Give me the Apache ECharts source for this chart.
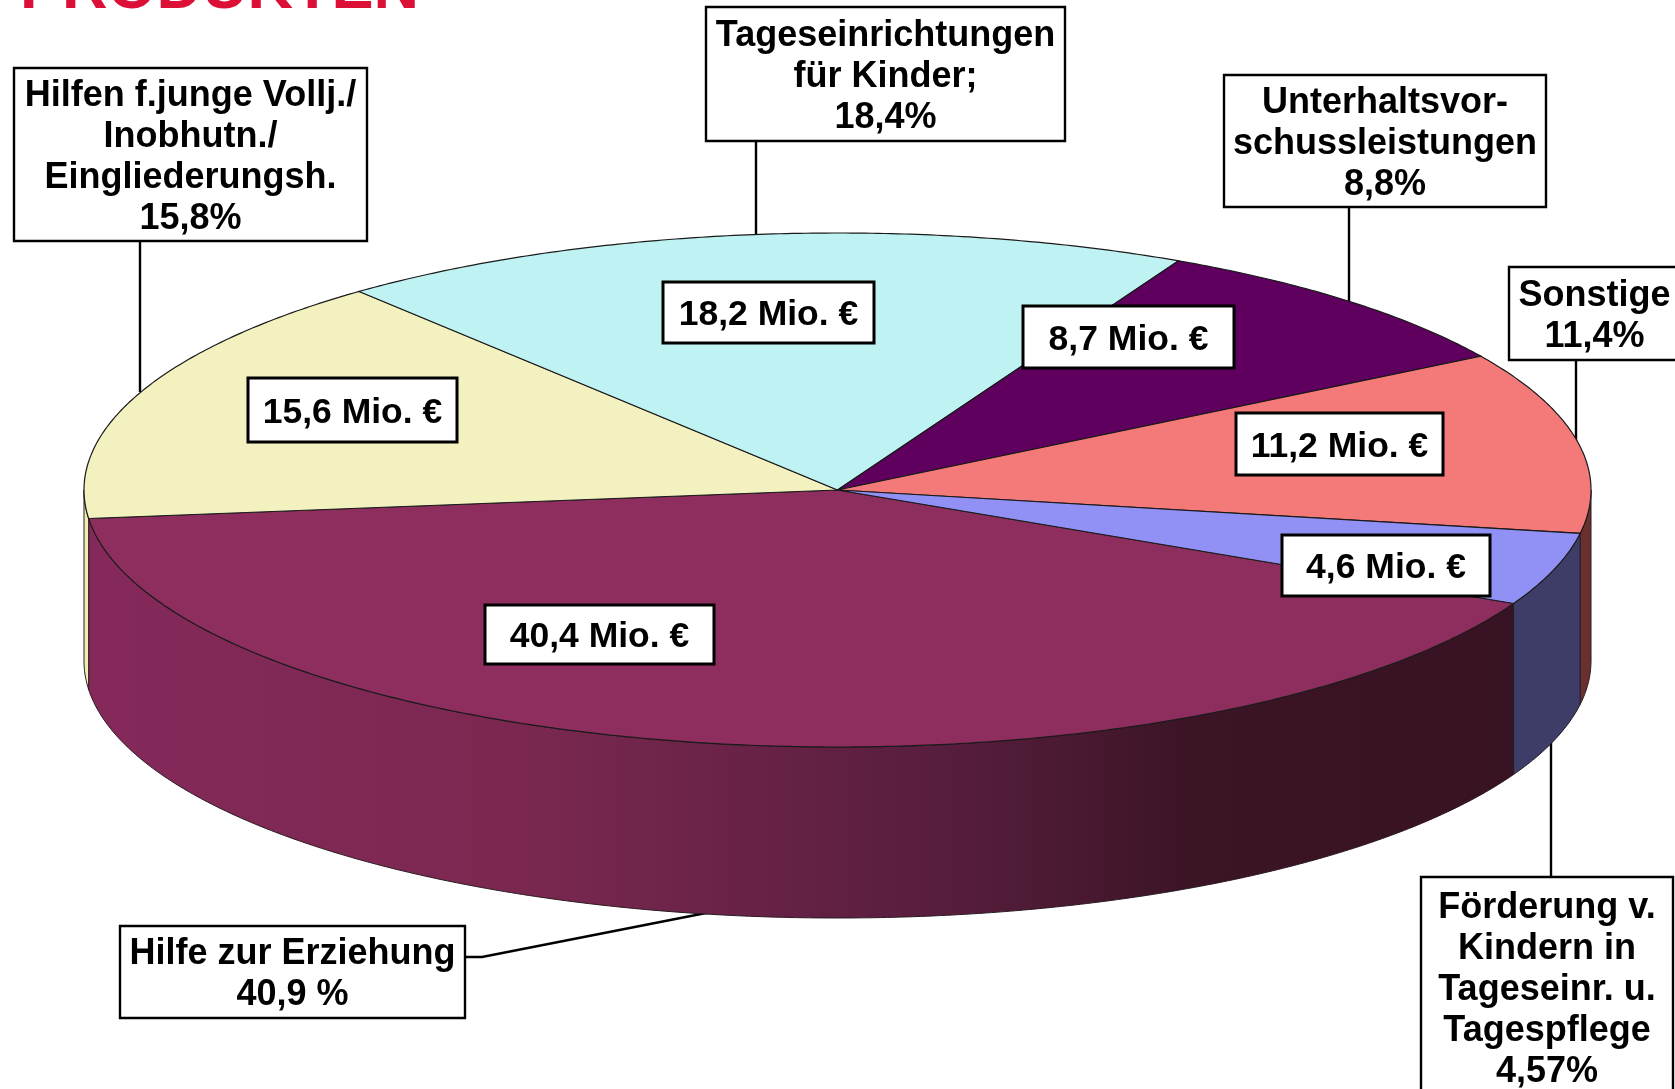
<!DOCTYPE html>
<html>
<head>
<meta charset="utf-8">
<style>
  html, body { margin: 0; padding: 0; background: #fff; }
  #main { width: 1675px; height: 1089px; }
</style>
<script src="https://cdn.jsdelivr.net/npm/echarts@6/dist/echarts.min.js"></script>
</head>
<body>
<div id="main"></div>
<script>
// slices clockwise, starting at the lower right edge of "Hilfe zur Erziehung"
var shares = [40.9, 15.8, 18.4, 8.8, 11.4, 4.57];
var names = [
  'Hilfe zur Erziehung',
  'Hilfen f.junge Vollj./\nInobhutn./\nEingliederungsh.',
  'Tageseinrichtungen\nfür Kinder;',
  'Unterhaltsvor-\nschussleistungen',
  'Sonstige',
  'Förderung v.\nKindern in\nTageseinr. u.\nTagespflege'
];
var shareLabels = ['40,9 %', '15,8%', '18,4%', '8,8%', '11,4%', '4,57%'];
var amountLabels = ['40,4 Mio. €', '15,6 Mio. €', '18,2 Mio. €', '8,7 Mio. €', '11,2 Mio. €', '4,6 Mio. €'];
var heading = 'PRODUKTEN';

// look of the pie
var topColors = ['#8e2e5e', '#f3f1bf', '#bff2f2', '#5f005f', '#f47a7a', '#9090f5'];
var wallColors = [null, '#efedb4', '#bff2f2', '#5f005f', '#6a3030', '#3d3d68'];
var cx = 837.5, cy = 490, rx = 753.5, ry = 257, depth = 171;
var startAngle = 26.2;

// boxes: x, y, w, h
var nameBoxes = [
  [120, 926, 345, 92],
  [14, 68, 353, 173],
  [706, 7, 359, 134],
  [1224, 75, 322, 132],
  [1509, 267, 171, 93],
  [1421, 877, 252, 220]
];
var amountBoxes = [
  [485, 605, 229, 59],
  [248, 378, 209, 64],
  [663, 282, 211, 61],
  [1023, 306, 211, 62],
  [1236, 413, 207, 62],
  [1282, 535, 208, 61]
];
var leaders = [
  [[465, 957], [482, 957], [706, 913]],
  [[140, 241], [140, 392]],
  [[756, 141], [756, 235]],
  [[1349, 207], [1349, 302]],
  [[1576, 360], [1576, 444]],
  [[1551, 742], [1551, 877]]
];

var total = shares.reduce(function (a, b) { return a + b; }, 0);

function sliceAngles(idx) {
  var from = startAngle;
  for (var i = 0; i < idx; i++) {
    from += shares[i] / total * 360;
  }
  return [from, from + shares[idx] / total * 360];
}

function edgePoint(deg, dy) {
  var r = deg * Math.PI / 180;
  return [cx + rx * Math.cos(r), cy + ry * Math.sin(r) + dy];
}

function arcPoints(a, b, dy) {
  var pts = [];
  for (var d = a; d < b; d += 0.5) {
    pts.push(edgePoint(d, dy));
  }
  pts.push(edgePoint(b, dy));
  return pts;
}

// the wall only shows for the part of the rim on the front half
function frontParts(a, b) {
  var parts = [];
  [[0, 180], [360, 540]].forEach(function (w) {
    var s = Math.max(a, w[0]), e = Math.min(b, w[1]);
    if (e > s) parts.push([s, e]);
  });
  return parts;
}

var hilfeWall = {
  type: 'linear', x: 83, y: 0, x2: 1513, y2: 0, global: true,
  colorStops: [
    { offset: 0, color: '#85295b' },
    { offset: 0.3, color: '#7b2850' },
    { offset: 0.45, color: '#6a2347' },
    { offset: 0.62, color: '#551d3b' },
    { offset: 0.78, color: '#3b1425' },
    { offset: 1, color: '#381323' }
  ]
};

function renderWall(params, api) {
  var i = params.dataIndex;
  var ang = sliceAngles(i);
  var children = [];
  frontParts(ang[0], ang[1]).forEach(function (p) {
    var pts = arcPoints(p[0], p[1], 0).concat(arcPoints(p[0], p[1], depth).reverse());
    children.push({
      type: 'polygon',
      shape: { points: pts },
      style: { fill: wallColors[i] || hilfeWall, stroke: '#2a1a22', lineWidth: 1 }
    });
  });
  return { type: 'group', children: children };
}

function renderTop(params, api) {
  var i = params.dataIndex;
  var ang = sliceAngles(i);
  return {
    type: 'polygon',
    shape: { points: [[cx, cy]].concat(arcPoints(ang[0], ang[1], 0)) },
    style: { fill: topColors[i], stroke: '#1a1a1a', lineWidth: 1.2 }
  };
}

function renderLeader(params, api) {
  return {
    type: 'polyline',
    shape: { points: leaders[params.dataIndex] },
    style: { fill: 'none', stroke: '#000', lineWidth: 2.4 }
  };
}

function boxWithText(box, text, lw, size) {
  return {
    type: 'group',
    children: [
      {
        type: 'rect',
        shape: { x: box[0], y: box[1], width: box[2], height: box[3] },
        style: { fill: '#fff', stroke: '#000', lineWidth: lw }
      },
      {
        type: 'text',
        style: {
          text: text,
          x: box[0] + box[2] / 2,
          y: box[1] + box[3] / 2 + 3,
          align: 'center',
          verticalAlign: 'middle',
          fill: '#000',
          font: 'bold ' + size + 'px "Liberation Sans", Arial, sans-serif',
          lineHeight: 41
        }
      }
    ]
  };
}

function renderLabels(params, api) {
  var i = params.dataIndex;
  return {
    type: 'group',
    children: [
      boxWithText(nameBoxes[i], names[i] + '\n' + shareLabels[i], 2.4, 36),
      boxWithText(amountBoxes[i], amountLabels[i], 3, 35.5)
    ]
  };
}

var chart = echarts.init(document.getElementById('main'), null, { renderer: 'canvas' });

function customSeries(fn, z) {
  return {
    type: 'custom',
    coordinateSystem: 'none',
    silent: true,
    z: z,
    clip: false,
    data: shares,
    renderItem: fn
  };
}

chart.setOption({
  animation: false,
  backgroundColor: '#fff',
  graphic: [{
    type: 'text',
    z: 50,
    style: {
      text: heading,
      x: 20,
      y: 22,
      align: 'left',
      verticalAlign: 'bottom',
      fill: '#dc0f37',
      font: 'bold 63px "Liberation Sans", Arial, sans-serif'
    }
  }],
  series: [
    customSeries(renderLeader, 1),
    customSeries(renderWall, 2),
    customSeries(renderTop, 3),
    customSeries(renderLabels, 4)
  ]
});
</script>
</body>
</html>
